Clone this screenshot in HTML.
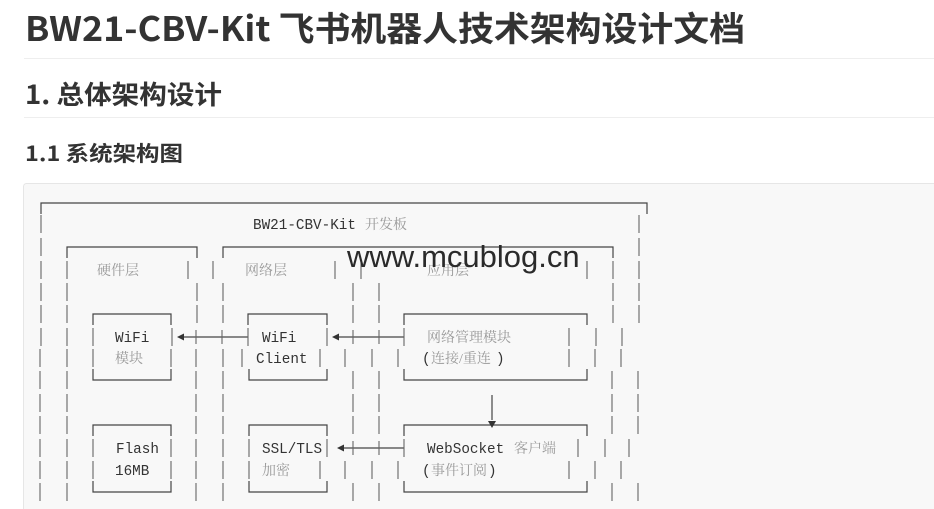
<!DOCTYPE html>
<html><head><meta charset="utf-8"><style>
html,body{margin:0;padding:0;background:#fff;width:934px;height:509px;overflow:hidden}
svg{display:block}
.h{font-family:"Noto Sans CJK SC","Liberation Sans",sans-serif;font-weight:bold;fill:#333}
.m{font-family:"Liberation Mono","Noto Sans CJK SC",monospace;font-size:14.3px;fill:#333}
.c{font-family:"Liberation Serif","Noto Serif CJK SC",serif;font-size:14px;fill:#999}
.wm{font-family:"Liberation Sans",sans-serif;font-size:31px;fill:#2a2a2a}
</style></head><body>
<svg width="934" height="509" viewBox="0 0 934 509" xmlns="http://www.w3.org/2000/svg">
<text class="h" x="25" y="41" font-size="34" textLength="720" lengthAdjust="spacingAndGlyphs">BW21-CBV-Kit 飞书机器人技术架构设计文档</text>
<line x1="24" y1="58.5" x2="934" y2="58.5" stroke="#eee"/>
<text class="h" x="25" y="104" font-size="26" textLength="197" lengthAdjust="spacingAndGlyphs">1. 总体架构设计</text>
<line x1="24" y1="117.5" x2="934" y2="117.5" stroke="#eee"/>
<text class="h" x="25" y="161" font-size="21" textLength="158" lengthAdjust="spacingAndGlyphs">1.1 系统架构图</text>
<rect x="23.5" y="183.5" width="930" height="340" rx="3" fill="#f8f8f8" stroke="#e6e6e6"/>

<g stroke="#444" stroke-width="1.2" fill="none">
<path d="M41 214V203H647V214"/>
<path d="M67 258V247H197V258"/><path d="M223 258V247H613V258"/>
<path d="M93 325V314H171V325"/><path d="M248 325V314H327V325"/><path d="M404 325V314H587V325"/>
<path d="M93 369V380H171V369"/><path d="M249 369V380H327V369"/><path d="M404 369V380H587V369"/>
<path d="M93 436V425H171V436"/><path d="M249 436V425H327V436"/><path d="M404 436V425H587V436"/>
<path d="M93 481V492H171V481"/><path d="M249 481V492H327V481"/><path d="M404 481V492H587V481"/>
<path d="M182 337H248"/><path d="M337 337H404"/><path d="M342 448H404"/>
<path d="M492 395V420"/>
</g>
<g fill="#333">
<path d="M177 337l7-3.5v7z"/><path d="M332 337l7-3.5v7z"/><path d="M337 448l7-3.5v7z"/>
<path d="M488 421h8l-4 7z"/>
</g>
<g stroke="#666" stroke-width="1.1">
<path d="M41 215v18M639 215v18"/>
<path d="M41 238v18M639 238v18"/>
<path d="M41 261v18M67 261v18M188 261v18M213 261v18M335 261v18M361 261v18M587 261v18M613 261v18M639 261v18"/>
<path d="M41 283v18M67 283v18M197 283v18M223 283v18M353 283v18M379 283v18M613 283v18M639 283v18"/>
<path d="M41 305v18M67 305v18M197 305v18M223 305v18M353 305v18M379 305v18M613 305v18M639 305v18"/>
<path d="M41 328v18M67 328v18M93 328v18M172 328v18M196 330v14M222 330v14M248 328v18M327 328v18M353 330v14M379 330v14M404 328v18M569 328v18M596 328v18M622 328v18"/>
<path d="M40 349v18M67 349v18M93 349v18M171 349v18M196 349v18M223 349v18M242 349v18M320 349v18M345 349v18M372 349v18M398 349v18M569 349v18M595 349v18M621 349v18"/>
<path d="M40 371v18M67 371v18M196 371v18M223 371v18M353 371v18M379 371v18M612 371v18M638 371v18"/>
<path d="M40 394v18M67 394v18M196 394v18M223 394v18M353 394v18M379 394v18M612 394v18M638 394v18"/>
<path d="M40 416v18M67 416v18M196 416v18M223 416v18M353 416v18M379 416v18M612 416v18M638 416v18"/>
<path d="M40 439v18M67 439v18M93 439v18M171 439v18M196 439v18M223 439v18M249 439v18M327 439v18M353 441v14M379 441v14M404 439v18M578 439v18M605 439v18M629 439v18"/>
<path d="M40 461v18M67 461v18M93 461v18M171 461v18M196 461v18M223 461v18M249 461v18M320 461v18M345 461v18M372 461v18M398 461v18M569 461v18M595 461v18M621 461v18"/>
<path d="M40 483v18M67 483v18M196 483v18M223 483v18M353 483v18M379 483v18M612 483v18M638 483v18"/>
</g>

<text class="m" x="253" y="229">BW21-CBV-Kit</text><text class="c" x="365" y="229">开发板</text>
<text class="c" x="97" y="275">硬件层</text><text class="c" x="245" y="275">网络层</text><text class="c" x="427" y="275">应用层</text>
<text class="m" x="115" y="342">WiFi</text><text class="m" x="262" y="342">WiFi</text><text class="c" x="427" y="342">网络管理模块</text>
<text class="c" x="115" y="363">模块</text><text class="m" x="256" y="363">Client</text><text class="m" x="422" y="363">(</text><text class="c" x="431" y="363">连接/重连</text><text class="m" x="496" y="363">)</text>
<text class="m" x="116" y="453">Flash</text><text class="m" x="262" y="453">SSL/TLS</text><text class="m" x="427" y="453">WebSocket</text><text class="c" x="514" y="453">客户端</text>
<text class="m" x="115" y="475">16MB</text><text class="c" x="262" y="475">加密</text><text class="m" x="422" y="475">(</text><text class="c" x="431" y="475">事件订阅</text><text class="m" x="488" y="475">)</text>

<text class="wm" x="347" y="267">www.mcublog.cn</text>
</svg>
</body></html>
